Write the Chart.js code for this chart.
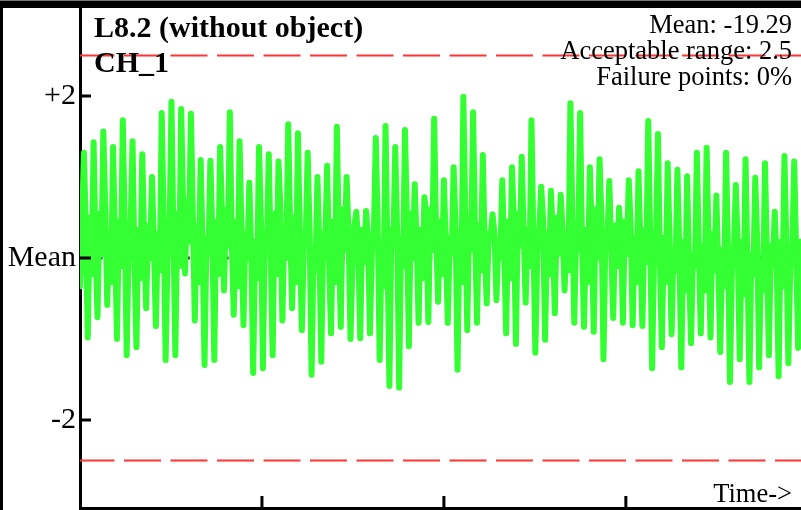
<!DOCTYPE html>
<html>
<head>
<meta charset="utf-8">
<script src="https://cdn.jsdelivr.net/npm/chart.js@4/dist/chart.umd.min.js"></script>
<style>
  html, body { margin: 0; padding: 0; background: #fff; }
  #wrap { width: 801px; height: 510px; position: relative; }
</style>
</head>
<body>
<div id="wrap"><canvas id="sig" width="801" height="510"></canvas></div>
<script>
// ─── Data ─────────────────────────────────────────────────────
// deviation from mean, one sample per step; each line = one cycle:
// peak up, mid, peak down, mid, mid
const SIGNAL = [
  -0.35, 0.40,
  1.30, 0.35, -0.98, 0.50, -0.20,
  1.43, 0.10, -0.73, 0.55, 0.05,
  1.56, 0.60, -0.58, 0.30, -0.30,
  1.37, 0.20, -1.00, 0.45, -0.10,
  1.70, 0.40, -1.20, 0.15, 0.35,
  1.44, -0.05, -1.10, 0.35, -0.25,
  1.28, 0.25, -0.62, 0.40, 0.00,
  1.00, 0.10, -0.84, 0.30, -0.15,
  1.79, 0.45, -1.26, 0.05, 0.30,
  1.93, 0.30, -1.20, 0.55, -0.10,
  1.84, 0.65, -0.19, 0.70, 0.20,
  1.78, 0.55, -0.77, 0.40, -0.30,
  1.21, 0.15, -1.32, 0.25, 0.05,
  1.20, 0.30, -1.26, 0.45, -0.20,
  1.37, 0.50, -0.40, 0.60, 0.15,
  1.80, 0.20, -0.70, 0.45, -0.35,
  1.44, 0.35, -0.83, 0.30, 0.00,
  0.93, 0.10, -1.42, 0.20, -0.25,
  1.37, 0.45, -1.36, 0.30, 0.10,
  1.28, 0.05, -1.20, 0.55, -0.20,
  1.19, 0.60, -0.77, 0.35, 0.00,
  1.65, 0.40, -0.62, 0.50, -0.30,
  1.54, 0.20, -0.89, 0.15, 0.25,
  1.30, 0.30, -1.44, 0.05, -0.15,
  1.00, 0.10, -1.28, 0.30, 0.20,
  1.14, -0.05, -0.93, 0.45, -0.30,
  1.62, 0.25, -0.85, 0.60, 0.10,
  1.00, 0.30, -1.00, -0.10, 0.40,
  0.57, 0.15, -0.99, 0.35, -0.05,
  0.58, 0.25, -0.93, 0.10, 0.30,
  1.48, 0.40, -1.26, 0.20, -0.35,
  1.63, 0.05, -1.58, 0.35, 0.15,
  1.37, 0.30, -1.60, 0.25, -0.10,
  1.58, 0.45, -1.09, 0.55, 0.00,
  0.91, 0.20, -0.80, 0.35, -0.25,
  0.75, 0.50, -0.79, 0.60, 0.10,
  1.72, 0.30, -0.54, 0.45, -0.20,
  0.96, 0.15, -0.80, 0.25, 0.05,
  1.12, 0.40, -1.38, 0.30, -0.30,
  1.99, 0.55, -0.89, 0.50, 0.10,
  1.80, 0.35, -0.80, 0.40, -0.15,
  1.27, 0.10, -0.56, 0.30, 0.25,
  0.54, 0.30, -0.52, 0.20, 0.00,
  0.96, 0.05, -0.93, 0.45, -0.25,
  1.12, 0.40, -1.06, 0.55, 0.15,
  1.25, 0.30, -0.55, 0.35, -0.10,
  1.70, 0.20, -1.17, 0.05, 0.35,
  0.88, 0.45, -1.01, 0.30, -0.20,
  0.83, 0.25, -0.68, 0.50, 0.05,
  0.78, 0.35, -0.40, 0.20, -0.15,
  1.91, 0.55, -0.80, 0.40, 0.10,
  1.79, 0.15, -0.85, 0.35, -0.30,
  1.12, 0.30, -0.91, 0.60, 0.00,
  1.22, 0.45, -1.25, 0.25, 0.20,
  0.95, 0.10, -0.74, 0.40, -0.10,
  0.62, 0.30, -0.80, 0.45, 0.05,
  0.96, 0.40, -0.83, 0.25, -0.30,
  1.07, 0.15, -0.84, 0.35, -0.05,
  1.69, 0.30, -1.36, 0.05, 0.20,
  1.53, -0.05, -1.10, 0.25, -0.30,
  1.17, 0.20, -0.94, 0.10, -0.15,
  1.09, 0.05, -1.35, 0.20, -0.40,
  1.01, -0.15, -1.05, 0.05, -0.10,
  1.30, 0.10, -0.93, 0.15, -0.40,
  1.36, 0.20, -0.98, 0.30, -0.15,
  0.77, -0.10, -1.16, 0.10, -0.35,
  1.30, 0.05, -1.53, -0.15, 0.10,
  0.90, 0.15, -1.25, 0.20, -0.45,
  1.22, -0.10, -1.53, 0.05, -0.20,
  0.99, 0.20, -1.35, -0.05, -0.40,
  1.17, 0.00, -1.20, 0.15, -0.10,
  0.57, -0.05, -1.46, 0.20, -0.35,
  1.26, 0.15, -1.30, -0.10, 0.05,
  1.19, 0.10, -1.11, 0.20, -0.30,
  0.95,
];

const MEAN_LEVEL    = 0;
const LIMITS        = [2.5, -2.5];          // acceptable range
const Y_TICKS       = [2, 0, -2];
const Y_TICK_LABELS = ['+2', 'Mean', '-2'];
const TIME_TICKS    = [93.5, 187, 280.5];
const X_MAX         = 370.5;
const Y_MAX         = 3.086;

const TITLE_LINES = ['L8.2 (without object)', 'CH_1'];
const STAT_LINES  = ['Mean: -19.29', 'Acceptable range: 2.5', 'Failure points: 0%'];

const SERIF = '"Liberation Serif", "Times New Roman", serif';

// ─── Decorations: frame, inward ticks, texts ──────────────────
const framePlugin = {
  id: 'frame',
  beforeDraw(chart) {
    const c = chart.ctx;
    c.save();
    c.fillStyle = '#fff';
    c.fillRect(0, 0, chart.width, chart.height);
    c.fillStyle = '#000';
    c.fillRect(0, 0, chart.width, 8);
    c.fillRect(0, 0, 3, chart.height);
    c.fillStyle = '#777';
    c.fillRect(0, 0, chart.width, 1);
    c.restore();
  },
  afterDraw(chart) {
    const c = chart.ctx;
    const { x, y } = chart.scales;
    const area = chart.chartArea;
    c.save();
    c.strokeStyle = '#000';
    c.lineWidth = 3;
    c.beginPath();
    Y_TICKS.forEach(v => {
      const py = y.getPixelForValue(v);
      c.moveTo(area.left, py);
      c.lineTo(area.left + 11, py);
    });
    TIME_TICKS.forEach(v => {
      const px = x.getPixelForValue(v);
      c.moveTo(px, area.bottom);
      c.lineTo(px, area.bottom - 12);
    });
    c.stroke();

    c.fillStyle = '#000';
    c.textBaseline = 'alphabetic';
    c.font = 'bold 30px ' + SERIF;
    c.textAlign = 'left';
    c.fillText(TITLE_LINES[0], 94, 37);
    c.fillText(TITLE_LINES[1], 94, 72);

    c.font = '26.5px ' + SERIF;
    c.textAlign = 'right';
    STAT_LINES.forEach((t, i) => c.fillText(t, 792, 33 + i * 26));
    c.fillText('Time->', 792, 502);
    c.restore();
  },
};

// ─── Chart ────────────────────────────────────────────────────
const signalPts = SIGNAL.map((v, i) => ({ x: i, y: v }));
const flatLine  = lvl => [{ x: 0, y: lvl }, { x: X_MAX, y: lvl }];

new Chart(document.getElementById('sig').getContext('2d'), {
  type: 'line',
  data: {
    datasets: [
      {
        label: 'Mean',
        data: flatLine(MEAN_LEVEL),
        borderColor: '#000',
        borderWidth: 3,
        borderDash: [3, 6.7],
        pointRadius: 0,
        order: 3,
      },
      {
        label: 'CH_1',
        data: signalPts,
        borderColor: '#33ff33',
        borderWidth: 6,
        borderCapStyle: 'round',
        borderJoinStyle: 'round',
        pointRadius: 0,
        tension: 0,
        order: 2,
      },
      ...LIMITS.map(l => ({
        label: 'limit',
        data: flatLine(l),
        borderColor: '#ff3535',
        borderWidth: 2,
        borderDash: [37, 9.5],
        borderDashOffset: 2.5,
        pointRadius: 0,
        order: 1,
      })),
    ],
  },
  options: {
    responsive: false,
    animation: false,
    devicePixelRatio: 1,
    layout: { padding: { top: 8, right: 0, bottom: 0, left: 0 } },
    plugins: { legend: { display: false }, tooltip: { enabled: false } },
    scales: {
      x: {
        type: 'linear',
        min: 0,
        max: X_MAX,
        afterFit: s => {
          s.height = 2;
          s.paddingLeft = 0; s.paddingRight = 0;
          s.paddingTop = 0; s.paddingBottom = 0;
        },
        afterBuildTicks: s => { s.ticks = TIME_TICKS.map(v => ({ value: v })); },
        ticks: { display: false },
        grid: { drawOnChartArea: false, drawTicks: false },
        border: { color: '#000', width: 3 },
      },
      y: {
        min: -Y_MAX,
        max: Y_MAX,
        afterFit: s => {
          s.width = 80;
          s.paddingTop = 0; s.paddingBottom = 0;
          s.paddingLeft = 0; s.paddingRight = 0;
        },
        afterBuildTicks: s => { s.ticks = Y_TICKS.map(v => ({ value: v })); },
        ticks: {
          padding: 4,
          color: '#000',
          font: { family: SERIF, size: 30 },
          callback: v => Y_TICK_LABELS[Y_TICKS.indexOf(v)],
        },
        grid: { drawOnChartArea: false, drawTicks: false },
        border: { color: '#000', width: 3 },
      },
    },
  },
  plugins: [framePlugin],
});
</script>
</body>
</html>
